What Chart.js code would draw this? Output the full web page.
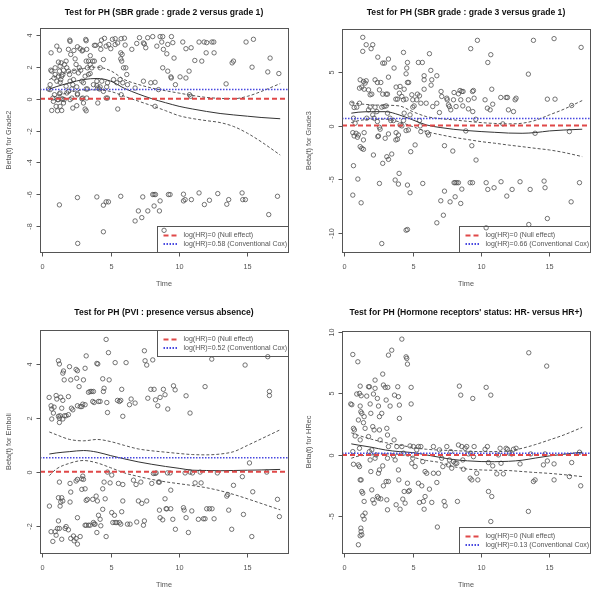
<!DOCTYPE html>
<html>
<head>
<meta charset="utf-8">
<script src="https://cdn.jsdelivr.net/npm/chart.js@4.4.1/dist/chart.umd.min.js"></script>
<style>
  body { margin: 0; background: #fff; width: 600px; height: 599px; overflow: hidden; position: relative; }
  canvas { position: absolute; }
</style>
</head>
<body>
<canvas id="p1" width="300" height="300" style="left:0;top:0"></canvas>
<canvas id="p2" width="300" height="300" style="left:300px;top:0"></canvas>
<canvas id="p3" width="300" height="300" style="left:0;top:300px"></canvas>
<canvas id="p4" width="300" height="300" style="left:300px;top:300px"></canvas>
<script>
// Shared axis settings
const xTicks = [0, 5, 10, 15];
const xRange = [-0.18, 17.97];
const fitTime = [0.5, 1, 2, 3, 4, 5, 6, 7, 8, 9, 10, 11, 12, 13, 14, 15, 16, 17.4];
const nullEffect = 0;

// Panel 1: SBR grade 2 vs grade 1
const p1Points = [
  [0.63,2.88],[1.05,3.3],[1.24,3.05],[2.0,3.68],[2.02,3.6],[2.3,3.03],[2.56,3.26],[2.75,3.14],[2.9,3.0],[2.95,3.05],
  [3.17,3.72],[3.2,3.64],[3.24,3.1],[3.5,2.7],[3.8,3.35],[3.9,3.35],[4.22,3.4],[4.27,3.1],[4.32,3.68],[4.54,3.79],
  [4.66,3.3],[4.85,3.4],[5.0,3.14],[5.12,3.73],[5.32,3.77],[5.32,3.4],[5.5,3.5],[5.76,3.77],[5.73,2.88],[5.83,2.78],
  [6.0,3.8],[6.05,3.37],[6.54,3.1],[6.9,3.47],[7.1,3.83],[7.39,3.5],[7.46,3.44],[7.56,3.2],[7.7,3.83],[8.07,3.9],
  [8.37,3.3],[8.61,3.9],[8.73,3.56],[8.8,3.9],[8.85,3.1],[9.1,2.82],[9.17,3.41],[9.44,3.9],[9.54,3.52],[9.63,2.55],
  [10.27,3.56],[10.5,3.14],[10.88,3.2],[11.15,2.4],[11.46,3.56],[11.66,2.36],[11.83,3.56],[11.98,2.88],[12.02,3.52],[12.4,3.56],
  [12.56,2.88],[12.54,3.56],[13.88,2.25],[13.98,2.36],[14.9,3.56],[15.34,1.98],[15.44,3.73],[16.66,2.55],[16.49,1.68],[17.3,1.58],
  [8.8,1.94],[9.17,1.73],[9.4,1.37],[9.43,1.3],[9.73,0.88],[10.07,1.37],[10.5,1.3],[10.73,1.73],[10.76,0.25],[10.85,0.15],
  [13.44,0.93],[8.49,0.57],[8.24,1.03],[7.93,1.0],[8.24,-0.48],[7.39,1.1],[6.78,0.67],[6.17,1.52],[6.1,1.94],[6.22,0.88],
  [5.88,1.0],[5.68,1.2],[5.73,2.5],[5.8,2.36],[5.93,1.94],[5.76,0.25],[5.51,-0.65],[5.2,1.2],[5.44,1.0],
  [4.76,1.0],[4.7,0.74],[4.66,0.04],[4.76,0.04],[4.46,0.46],[4.34,1.1],[4.22,1.94],[4.46,2.46],[4.17,0.61],[4.22,0.74],
  [4.05,0.67],[3.98,0.82],[4.05,-0.27],[3.98,1.1],[3.73,0.88],[3.8,2.36],[3.68,2.36],[3.49,2.15],[3.37,2.36],[3.29,1.94],
  [3.2,2.36],[3.12,1.41],[3.2,0.61],[3.29,0.61],[3.12,-0.65],[3.2,-0.76],[3.24,0.04],[2.95,0.04],[3.0,-0.27],[2.88,0.0],
  [2.8,1.79],[2.7,1.94],[2.63,1.62],[2.46,2.15],[2.39,2.5],[2.32,1.73],[2.27,1.2],[2.22,0.88],[2.15,0.61],[2.15,0.04],
  [2.02,-0.06],[2.56,0.25],[2.56,0.32],[2.51,-0.44],[2.22,-0.59],[2.02,1.1],[1.98,1.52],[1.9,1.73],[1.78,1.94],[1.73,2.36],
  [1.61,2.15],[1.54,1.79],[1.49,1.52],[1.41,1.41],[1.34,1.2],[1.29,1.03],[1.29,0.36],[1.24,0.3],[1.41,-0.02],[1.49,-0.02],
  [1.59,-0.06],[1.54,-0.27],[1.17,-0.06],[1.1,-0.06],[1.0,-0.48],[1.29,-0.48],[1.41,-0.74],[1.1,-0.76],[0.68,-0.74],[0.76,0.04],
  [0.8,-0.17],[0.88,0.25],[0.56,0.88],[0.56,0.57],[0.44,0.61],[0.61,1.79],[0.68,1.73],[0.93,1.52],[1.05,1.1],[1.17,1.41],
  [1.24,1.73],[1.29,2.04],[1.17,2.3],[1.37,2.25],[0.93,1.94],[0.85,1.3],[1.73,0.78],[1.78,0.36],[1.9,0.46],[2.07,2.78],
  [1.9,3.1],[2.88,1.1],[3.0,1.0],[3.37,1.52],[3.49,1.58],[3.61,1.94],[2.51,0.74],
  [1.24,-6.67],[2.56,-6.21],[3.98,-6.17],[4.46,-6.69],[4.66,-6.48],[4.83,-6.48],[5.73,-6.13],[4.46,-8.36],[2.58,-9.09],[6.78,-7.68],
  [7.02,-7.05],[7.27,-7.47],[7.34,-6.17],[7.71,-7.05],[8.07,-6.02],[8.17,-6.02],[8.27,-6.02],[8.17,-6.74],[8.56,-7.05],[8.61,-6.42],
  [9.22,-6.02],[9.34,-6.02],[10.32,-6.0],[10.32,-6.42],[10.44,-6.34],[10.9,-6.34],[11.46,-5.92],[11.85,-6.65],[12.22,-6.38],[12.83,-5.96],
  [13.49,-6.63],[13.63,-6.34],[14.61,-5.92],[14.66,-6.34],[14.85,-6.34],[16.56,-7.28],[17.2,-6.13],[8.9,-8.27]
];
const p1Fit = [0.6, 0.75, 1.0, 1.2, 1.27, 1.1, 0.65, 0.3, 0.0, -0.25, -0.48, -0.65, -0.8, -0.93, -1.02, -1.1, -1.18, -1.26];
const p1Upper = [1.2, 1.4, 1.7, 1.9, 1.98, 1.75, 1.2, 0.9, 0.67, 0.5, 0.35, 0.2, 0.08, 0.02, 0.0, 0.15, 0.45, 0.95];
const p1Lower = [-0.05, 0.15, 0.4, 0.55, 0.55, 0.45, 0.15, -0.15, -0.44, -0.75, -1.07, -1.25, -1.38, -1.5, -1.75, -2.17, -2.7, -3.54];
const p1Cox = 0.58;

// Panel 2: SBR grade 3 vs grade 1
const p2Points = [
  [1.34,8.25],[1.59,7.56],[2.07,7.56],[1.95,7.19],[1.34,6.94],[2.44,6.4],[2.8,5.84],[2.93,5.84],[3.22,6.22],[4.32,6.84],
  [4.61,5.9],[4.56,5.38],[4.51,4.84],[4.61,4.03],[4.7,4.03],[5.41,5.9],[5.7,5.9],[5.83,4.66],[5.83,4.28],[6.22,6.72],
  [6.32,5.16],[6.34,3.78],[6.76,4.66],[1.15,4.28],[1.39,4.12],[1.51,3.97],[1.59,4.19],[1.1,3.5],[1.27,3.6],[1.44,3.4],
  [1.76,3.34],[1.88,2.88],[2.0,2.94],[2.24,4.28],[2.41,4.03],[2.66,4.03],[2.56,3.34],[2.8,2.94],[3.05,2.94],[3.15,2.94],
  [3.22,4.53],[3.63,5.38],[3.78,3.6],[3.76,2.47],[3.88,2.47],[4.02,3.03],[4.07,3.66],[4.2,2.72],[4.32,2.41],[4.37,3.4],
  [4.51,2.47],[4.93,2.88],[5.0,2.41],[5.1,1.84],[5.29,2.41],[5.34,2.94],[5.49,2.78],[5.59,2.09],[5.83,3.4],[5.98,2.09],
  [6.39,4.28],[6.46,1.78],[6.76,2.09],[7.07,3.19],[7.12,2.72],[6.95,1.22],[7.49,2.56],[7.52,2.41],[7.61,1.94],[7.68,1.78],
  [7.78,1.47],[7.98,2.41],[8.02,3.09],[8.17,1.78],[8.34,2.97],[8.46,3.28],[8.59,3.19],[8.51,2.41],[8.66,1.84],[8.68,3.19],
  [9.07,2.41],[9.07,1.56],[9.24,7.19],[9.37,3.19],[9.44,3.28],[9.49,2.56],[9.39,1.31],[9.61,0.59],[9.73,7.97],[10.29,2.41],
  [10.46,1.63],[10.49,5.9],[10.71,6.63],[10.78,3.4],[10.85,2.0],[10.66,1.47],[11.44,2.63],[11.83,2.63],[11.93,2.63],[12.0,1.47],
  [12.37,1.31],[12.49,2.41],[12.56,2.56],[11.59,0.16],[13.46,4.81],[13.83,7.97],[13.95,-0.72],[14.85,2.47],[15.34,8.13],[15.41,2.47],
  [17.32,7.31],[16.63,1.88],
  [0.54,2.09],[0.71,1.69],[0.9,1.72],[1.1,2.09],[0.66,0.69],[0.78,0.22],[0.61,-0.66],[0.71,-0.97],[0.95,-1.09],[1.15,-1.97],
  [1.27,-2.13],[1.39,-2.22],[1.39,-1.34],[1.44,-0.66],[1.63,0.69],[1.76,1.47],[1.88,1.72],[2.07,1.0],[2.17,0.69],[2.24,1.72],
  [2.37,1.31],[2.41,0.38],[2.12,-2.75],[2.49,-0.97],[2.56,-0.16],[2.61,-0.34],[2.73,1.72],[2.9,1.78],[3.05,1.84],[3.15,1.16],
  [3.34,0.69],[3.39,0.47],[3.59,0.47],[3.22,-0.78],[3.1,-2.91],[3.22,-3.16],[2.98,-1.19],[2.8,-3.53],[3.46,-2.66],[3.76,-1.34],
  [3.78,-0.66],[3.88,-1.28],[3.95,-0.88],[3.71,-5.09],[3.95,-5.47],[4.0,-4.47],[4.07,0.06],[4.2,-0.03],[4.32,0.47],[4.37,1.16],
  [4.51,-0.47],[4.68,-0.41],[4.8,1.0],[4.85,-2.44],[4.61,-5.56],[4.8,-6.28],[5.0,1.72],[5.17,-1.81],[5.49,0.47],[5.54,-0.03],
  [5.59,-0.56],[5.73,-5.41],[6.07,-0.66],[6.15,-0.88],[2.56,-5.41],[2.73,-11.03],[2.44,-1.03],[0.61,-6.5],[0.66,-3.75],[0.98,-5.0],
  [1.22,-7.22],[4.51,-9.78],[4.61,-9.72],[1.02,-0.88],[0.85,-0.72],
  [7.32,-1.88],[7.93,-2.38],[8.88,-0.5],[9.32,-1.88],[9.63,-3.22],[8.02,-5.34],[8.1,-5.34],[8.22,-5.34],[8.34,-5.34],[8.59,-5.94],
  [8.51,-7.28],[7.73,-7.13],[8.1,-6.66],[7.32,-6.13],[7.05,-7.03],[7.24,-8.38],[6.76,-9.09],[9.2,-5.34],[9.37,-5.34],[10.37,-5.34],
  [10.49,-5.97],[10.95,-5.81],[11.46,-5.25],[11.88,-6.59],[12.27,-5.97],[12.85,-5.25],[13.59,-5.97],[13.49,-9.25],[14.61,-5.19],[14.68,-5.81],
  [14.85,-8.69],[10.37,-9.56],[16.59,-7.13],[17.2,-5.34],[16.46,-0.56]
];
const p2Fit = [1.16, 1.25, 1.3, 1.3, 1.0, 0.53, 0.06, -0.18, -0.35, -0.47, -0.56, -0.63, -0.7, -0.72, -0.65, -0.5, -0.42, -0.34];
const p2Upper = [2.15, 2.05, 1.94, 1.9, 1.84, 1.3, 0.84, 0.65, 0.53, 0.4, 0.28, 0.2, 0.16, 0.22, 0.5, 1.0, 1.5, 2.34];
const p2Lower = [0.28, 0.45, 0.6, 0.6, 0.35, -0.1, -0.56, -0.85, -1.1, -1.3, -1.5, -1.65, -1.82, -1.97, -2.13, -2.28, -2.5, -2.9];
const p2Cox = 0.66;

// Panel 3: PVI presence vs absence
const p3Points = [
  [0.49,2.76],[0.63,2.45],[0.68,2.33],[0.68,1.96],[0.8,2.18],[0.85,2.4],[1.0,2.83],[1.05,2.7],[1.17,4.12],[1.24,4.0],
  [1.17,2.06],[1.24,1.99],[1.29,2.08],[1.24,1.83],[1.34,2.77],[1.41,2.36],[1.49,2.65],[1.49,3.66],[1.54,3.74],[1.59,3.41],
  [1.49,1.96],[1.61,2.08],[1.73,2.08],[1.9,2.12],[1.9,2.79],[1.98,3.9],[2.07,3.41],[2.22,2.3],[2.12,2.36],[2.46,3.8],
  [2.56,3.75],[2.51,3.47],[2.68,3.16],[2.56,2.45],[2.76,2.42],[2.88,2.42],[3.0,3.41],[2.95,2.51],[3.12,2.49],[3.2,4.3],
  [3.12,3.84],[3.37,2.95],[3.49,2.98],[3.61,2.98],[3.73,2.98],[3.68,2.61],[3.78,2.57],[3.98,4.02],[4.05,4.0],[4.1,2.61],
  [4.22,2.61],[4.41,3.45],[4.46,2.98],[4.51,3.1],[4.66,4.91],[4.71,2.57],[4.76,2.2],[4.83,4.42],[4.88,3.41],[5.32,4.05],
  [5.49,2.65],[5.63,2.61],[5.73,2.65],[5.8,3.06],[5.88,2.06],[6.12,4.05],[6.37,2.49],[6.49,2.7],[6.78,2.55],[7.46,4.49],
  [7.51,4.12],[7.63,3.96],[7.71,2.73],[8.07,4.15],[7.93,3.06],[8.17,3.06],[8.27,2.67],[8.44,2.45],[8.61,2.76],[8.85,3.06],
  [8.97,2.86],[9.17,2.33],[9.59,3.19],[9.71,3.04],[10.51,2.82],[10.8,2.18],[11.9,3.16],[12.39,4.18],[14.83,3.96],[16.49,4.27],
  [16.61,2.98],[16.61,2.83],
  [0.51,-1.27],[0.63,-2.22],[0.76,-2.58],[0.93,-2.22],[1.0,-2.35],[1.1,-2.1],[1.17,-1.82],[1.24,-2.1],[1.29,-1.27],[1.24,-0.38],
  [1.17,-0.96],[1.34,-1.12],[1.41,-0.96],[1.49,-1.08],[1.41,-2.5],[1.66,-2.1],[1.73,-2.03],[1.9,-2.15],[2.02,-0.43],[2.07,-0.75],
  [2.02,-1.12],[2.07,-2.47],[2.27,-2.38],[2.32,-2.56],[2.46,-2.47],[2.56,-2.68],[2.76,-2.4],[2.56,-1.7],[2.46,-0.34],[2.56,-0.28],
  [2.88,-0.26],[2.95,-0.16],[3.0,-0.28],[2.88,-0.65],[3.12,-0.63],[3.2,-1.06],[3.29,-1.02],[3.12,-1.98],[3.2,-1.98],[3.37,-1.98],
  [3.49,-1.98],[3.68,-1.02],[3.73,-1.88],[3.78,-1.94],[3.85,-1.94],[3.93,-0.9],[3.98,-2.25],[4.02,-1.08],[4.1,-1.61],[4.22,-1.76],
  [4.27,-2.0],[4.41,-1.39],[4.41,-0.63],[4.51,-0.38],[4.59,-1.0],[4.66,-2.4],[4.76,-0.01],[4.95,-0.41],[5.07,-0.12],[5.07,-1.51],
  [5.15,-1.88],[5.27,-1.61],[5.32,-1.88],[5.44,-1.88],[5.63,-1.88],[5.73,-1.94],[5.8,-1.48],[5.88,-1.08],[5.88,-0.47],[5.56,-0.43],
  [6.22,-1.94],[6.41,-1.94],[6.66,-0.31],[6.85,-0.47],[6.9,-1.86],[7.02,-1.08],[7.2,-0.38],[7.27,-1.17],[7.39,-1.98],[7.46,-1.82],
  [7.63,-1.08],[8.0,-0.43],[8.12,-0.06],[8.24,-0.06],[8.32,-0.04],[8.49,-0.38],[8.56,-0.38],[8.56,-1.42],[8.61,-1.7],[8.8,-1.78],
  [8.97,-1.0],[9.05,-1.37],[9.1,-1.37],[9.15,-0.04],[9.34,-0.04],[9.39,-0.68],[9.39,-1.37],[9.54,-1.76],[9.73,-2.13],[10.32,-1.33],
  [10.37,-1.42],[10.44,-0.04],[10.51,-1.7],[10.68,-2.25],[10.8,-0.01],[10.93,-1.45],[10.98,-0.04],[11.17,-0.41],[11.41,-1.76],[11.54,-0.01],
  [11.61,-0.41],[11.78,-1.74],[11.9,-1.74],[12.02,-1.37],[12.22,-1.37],[12.41,-1.37],[12.56,-1.74],[12.8,-0.04],[13.49,-0.9],[13.56,-0.84],
  [13.63,-1.42],[13.85,-2.13],[13.98,-0.5],[14.63,-0.18],[14.71,-1.58],[15.15,0.33],[15.32,-2.4],[15.39,-0.74],[16.41,-0.01],[17.2,-1.02],
  [17.34,-1.66]
];
const p3Fit = [0.66, 0.7, 0.75, 0.79, 0.73, 0.6, 0.48, 0.37, 0.28, 0.2, 0.13, 0.06, 0.05, 0.04, 0.05, 0.06, 0.07, 0.09];
const p3Upper = [1.48, 1.38, 1.2, 1.15, 1.2, 1.12, 0.98, 0.85, 0.78, 0.73, 0.68, 0.64, 0.63, 0.66, 0.75, 0.98, 1.22, 1.56];
const p3Lower = [-0.14, 0.1, 0.32, 0.42, 0.33, 0.15, -0.04, -0.17, -0.28, -0.37, -0.44, -0.51, -0.59, -0.7, -0.84, -1.0, -1.17, -1.41];
const p3Cox = 0.52;

// Panel 4: hormone receptors HR- vs HR+
const p4Points = [
  [0.46,4.14],[0.54,4.08],[0.61,8.16],[0.66,2.16],[0.73,2.03],[0.61,0.27],[0.66,-0.76],[0.78,1.54],[0.9,4.95],[0.98,7.57],
  [1.02,2.84],[1.1,5.0],[1.15,5.59],[1.15,3.97],[1.2,3.51],[1.22,4.81],[1.27,3.38],[1.39,2.62],[1.44,3.11],[1.51,2.16],
  [1.15,1.22],[1.1,0.54],[1.02,-0.81],[1.1,-0.95],[1.15,-2.03],[1.22,-2.03],[1.27,-2.97],[1.34,-3.11],[1.44,-3.78],[1.51,-4.73],
  [1.44,-5.22],[1.34,-4.95],[1.2,-5.95],[1.22,-6.22],[1.15,-6.57],[1.27,-6.49],[1.02,-7.3],[1.63,4.78],[1.76,5.54],[1.83,5.54],
  [1.88,4.14],[1.93,3.38],[1.76,1.49],[1.83,0.27],[1.88,-0.41],[1.93,-1.35],[2.0,0.41],[2.07,2.3],[2.12,4.95],[2.17,2.03],
  [2.24,6.08],[2.24,5.41],[2.32,0.0],[2.24,-0.27],[2.0,-2.84],[2.07,-3.65],[2.17,-3.92],[2.41,4.59],[2.49,3.97],[2.56,3.11],
  [2.56,2.03],[2.61,1.22],[2.49,-1.49],[2.56,-1.22],[2.41,-3.38],[2.49,-3.51],[2.66,-3.57],[2.73,3.38],[2.8,6.57],[2.85,5.68],
  [2.8,-0.89],[2.85,-2.51],[2.98,5.49],[3.05,4.46],[3.1,2.16],[3.15,1.62],[3.22,0.68],[3.15,-0.27],[3.05,-2.16],[3.1,-3.65],
  [3.15,-4.46],[3.22,8.11],[3.46,8.51],[3.34,3.97],[3.17,5.49],[3.22,-2.16],[3.59,-0.08],[3.63,1.22],[3.66,4.86],[3.71,-0.41],
  [3.78,-4.05],[3.83,0.68],[3.9,5.54],[3.95,4.73],[3.95,-1.22],[3.98,-2.03],[4.02,4.05],[4.02,2.97],[4.07,-4.41],[4.2,9.41],
  [4.2,0.68],[4.27,-3.59],[4.32,0.14],[4.37,-2.97],[4.44,-3.92],[4.51,7.97],[4.56,7.84],[4.61,7.38],[4.61,-2.3],[4.68,-2.97],
  [4.76,-2.89],[4.8,0.73],[4.88,5.49],[4.88,4.14],[4.93,-0.68],[5.0,-0.27],[5.05,0.68],[5.17,-0.95],[5.29,0.41],[5.41,0.68],
  [5.41,-2.3],[5.49,-3.86],[5.59,0.68],[5.66,-2.51],[5.73,-0.54],[5.78,-3.78],[5.83,-4.41],[5.9,-3.38],[5.9,-1.35],[6.02,-1.49],
  [6.22,-2.78],[6.39,-3.86],[6.51,0.68],[6.51,-1.49],[6.76,-2.24],[6.8,-5.86],[6.88,-1.49],[6.95,0.41],[7.12,-0.27],[7.2,-0.95],
  [7.29,-3.78],[7.37,-4.14],[7.49,0.68],[7.61,-0.81],[7.68,-0.41],[7.78,0.27],[7.85,-1.08],[7.98,-0.54],[8.1,-0.68],[8.22,-0.68],
  [8.27,-3.78],[8.34,0.81],[8.41,5.59],[8.51,4.86],[8.59,0.68],[8.66,-0.41],[8.71,-1.16],[8.83,0.54],[8.95,0.68],[9.07,0.08],
  [9.2,-1.89],[9.24,0.14],[9.32,-2.03],[9.39,4.59],[9.44,-0.14],[9.49,0.68],[9.68,-1.49],[9.76,-2.03],[10.29,0.46],[10.37,5.49],
  [10.46,0.68],[10.54,-0.62],[10.54,-2.97],[10.71,4.86],[10.78,-3.38],[10.71,-5.41],[10.85,-0.89],[11.15,-1.54],[11.27,0.0],[11.39,0.54],
  [11.46,-0.68],[11.63,-1.54],[11.83,0.54],[11.93,0.46],[12.07,0.14],[12.24,0.08],[12.37,0.46],[12.56,0.54],[12.85,-0.73],[13.49,8.3],
  [13.46,-4.59],[13.63,0.08],[13.83,-2.16],[13.95,-2.03],[14.56,-0.81],[14.68,0.08],[14.8,7.22],[14.85,-0.49],[15.34,-0.73],[15.34,-2.03],
  [16.46,-1.76],[16.63,-0.62],[17.2,0.22],[17.29,-2.51]
];
const p4Fit = [0.9, 0.8, 0.62, 0.4, 0.27, 0.19, 0.0, -0.2, -0.38, -0.48, -0.54, -0.55, -0.52, -0.43, -0.25, -0.08, 0.05, 0.22];
const p4Upper = [1.8, 1.6, 1.27, 1.0, 0.81, 0.6, 0.46, 0.39, 0.35, 0.3, 0.27, 0.27, 0.32, 0.54, 0.85, 1.22, 1.6, 2.24];
const p4Lower = [-0.27, -0.1, 0.0, 0.08, 0.05, -0.19, -0.45, -0.62, -0.95, -1.15, -1.22, -1.25, -1.27, -1.35, -1.43, -1.5, -1.6, -1.76];
const p4Cox = 0.13;

const FONT = '"Liberation Sans", Arial, sans-serif';
const TEXT = '#555';
const RED = '#e04848';
const BLUE = '#4848e0';

// Draws the R-style frame, ticks, labels, title and legend
const rFrame = {
  id: 'rFrame',
  afterDraw(chart, args, o) {
    const { ctx, chartArea: a, scales } = chart;
    const sx = scales.x, sy = scales.y;
    ctx.save();
    ctx.strokeStyle = TEXT;
    ctx.fillStyle = TEXT;
    ctx.lineWidth = 1;
    ctx.setLineDash([]);
    ctx.strokeRect(Math.round(a.left) + 0.5, Math.round(a.top) + 0.5,
      Math.round(a.right - a.left), Math.round(a.bottom - a.top));

    ctx.font = '7.3px ' + FONT;
    ctx.textAlign = 'center';
    ctx.textBaseline = 'middle';
    const bottom = Math.round(a.bottom) + 0.5;
    const left = Math.round(a.left) + 0.5;
    xTicks.forEach(t => {
      const px = Math.round(sx.getPixelForValue(t)) + 0.5;
      ctx.beginPath(); ctx.moveTo(px, bottom); ctx.lineTo(px, bottom + 4); ctx.stroke();
      ctx.fillText(String(t), px, bottom + 14);
    });
    o.yTicks.forEach(t => {
      const py = Math.round(sy.getPixelForValue(t)) + 0.5;
      ctx.beginPath(); ctx.moveTo(left, py); ctx.lineTo(left - 4, py); ctx.stroke();
      ctx.save(); ctx.translate(left - 10.5, py); ctx.rotate(-Math.PI / 2);
      ctx.fillText(String(t), 0, 0); ctx.restore();
    });

    const cx = (a.left + a.right) / 2, cy = (a.top + a.bottom) / 2;
    ctx.fillText('Time', cx, bottom + 31);
    ctx.save(); ctx.translate(9, cy); ctx.rotate(-Math.PI / 2);
    ctx.fillText(o.ylab, 0, 0); ctx.restore();

    ctx.fillStyle = '#111';
    ctx.font = 'bold 8.6px ' + FONT;
    ctx.fillText(o.title, cx, 12.7);

    // legend box (transparent, data shows through)
    const w = 131, h = 26;
    const x0 = Math.round(a.right - w) + 0.5;
    const y0 = o.legendTop ? Math.round(a.top) + 0.5 : Math.round(a.bottom - h) + 0.5;
    ctx.strokeStyle = TEXT;
    ctx.strokeRect(x0, y0, w, h);
    const rows = [y0 + 9, y0 + 17.5];
    ctx.lineWidth = 2;
    ctx.strokeStyle = RED; ctx.setLineDash([5, 3]);
    ctx.beginPath(); ctx.moveTo(x0 + 6, rows[0]); ctx.lineTo(x0 + 20, rows[0]); ctx.stroke();
    ctx.strokeStyle = BLUE; ctx.setLineDash([1.5, 1.5]);
    ctx.beginPath(); ctx.moveTo(x0 + 6, rows[1]); ctx.lineTo(x0 + 20, rows[1]); ctx.stroke();
    ctx.setLineDash([]);
    ctx.fillStyle = TEXT;
    ctx.font = '7px ' + FONT;
    ctx.textAlign = 'left';
    ctx.fillText('log(HR)=0 (Null effect)', x0 + 26, rows[0]);
    ctx.fillText('log(HR)=' + o.cox + ' (Conventional Cox)', x0 + 26, rows[1]);
    ctx.restore();
  }
};

function hLine(v) {
  return [{ x: xRange[0], y: v }, { x: xRange[1], y: v }];
}

function curve(values) {
  return fitTime.map((t, i) => ({ x: t, y: values[i] }));
}

function makePanel(id, cfg) {
  const lineBase = { showLine: true, pointRadius: 0, borderWidth: 1, fill: false };
  new Chart(document.getElementById(id), {
    type: 'scatter',
    data: {
      datasets: [
        { ...lineBase, data: hLine(nullEffect), borderColor: RED, borderWidth: 2, borderDash: [5, 3] },
        { ...lineBase, data: hLine(cfg.cox), borderColor: BLUE, borderWidth: 1.6, borderDash: [1.5, 1.5] },
        { ...lineBase, data: curve(cfg.fit), borderColor: '#333', cubicInterpolationMode: 'monotone' },
        { ...lineBase, data: curve(cfg.upper), borderColor: '#555', borderDash: [3, 2], cubicInterpolationMode: 'monotone' },
        { ...lineBase, data: curve(cfg.lower), borderColor: '#555', borderDash: [3, 2], cubicInterpolationMode: 'monotone' },
        {
          data: cfg.points.map(p => ({ x: p[0], y: p[1] })),
          showLine: false,
          pointRadius: 2.2,
          pointBorderWidth: 0.8,
          pointBorderColor: '#505050',
          pointBackgroundColor: 'rgba(0,0,0,0)'
        }
      ]
    },
    options: {
      responsive: false,
      animation: false,
      events: [],
      layout: { padding: cfg.pad },
      plugins: {
        legend: { display: false },
        tooltip: { enabled: false },
        rFrame: { title: cfg.title, ylab: cfg.ylab, yTicks: cfg.yTicks, cox: cfg.cox, legendTop: cfg.legendTop }
      },
      scales: {
        x: { type: 'linear', min: xRange[0], max: xRange[1], display: false },
        y: { type: 'linear', min: cfg.yRange[0], max: cfg.yRange[1], display: false }
      }
    },
    plugins: [rFrame]
  });
}

makePanel('p1', {
  title: 'Test for PH (SBR grade : grade 2 versus grade 1)', ylab: 'Beta(t) for Grade2',
  points: p1Points, fit: p1Fit, upper: p1Upper, lower: p1Lower, cox: p1Cox,
  yRange: [-9.63, 4.44], yTicks: [-8, -6, -4, -2, 0, 2, 4],
  pad: { left: 40, right: 12, top: 28, bottom: 48 }
});
makePanel('p2', {
  title: 'Test for PH (SBR grade : grade 3 versus grade 1)', ylab: 'Beta(t) for Grade3',
  points: p2Points, fit: p2Fit, upper: p2Upper, lower: p2Lower, cox: p2Cox,
  yRange: [-11.82, 9.03], yTicks: [-10, -5, 0, 5],
  pad: { left: 42, right: 10, top: 29, bottom: 48 }
});
makePanel('p3', {
  title: 'Test for PH (PVI : presence versus absence)', ylab: 'Beta(t) for Emboli',
  points: p3Points, fit: p3Fit, upper: p3Upper, lower: p3Lower, cox: p3Cox,
  yRange: [-3.01, 5.26], yTicks: [-2, 0, 2, 4], legendTop: true,
  pad: { left: 40, right: 12, top: 30, bottom: 47 }
});
makePanel('p4', {
  title: "Test for PH (Hormone receptors' status: HR- versus HR+)", ylab: 'Beta(t) for HRec',
  points: p4Points, fit: p4Fit, upper: p4Upper, lower: p4Lower, cox: p4Cox,
  yRange: [-7.97, 10.07], yTicks: [-5, 0, 5, 10],
  pad: { left: 42, right: 10, top: 31, bottom: 47 }
});
</script>
</body>
</html>
